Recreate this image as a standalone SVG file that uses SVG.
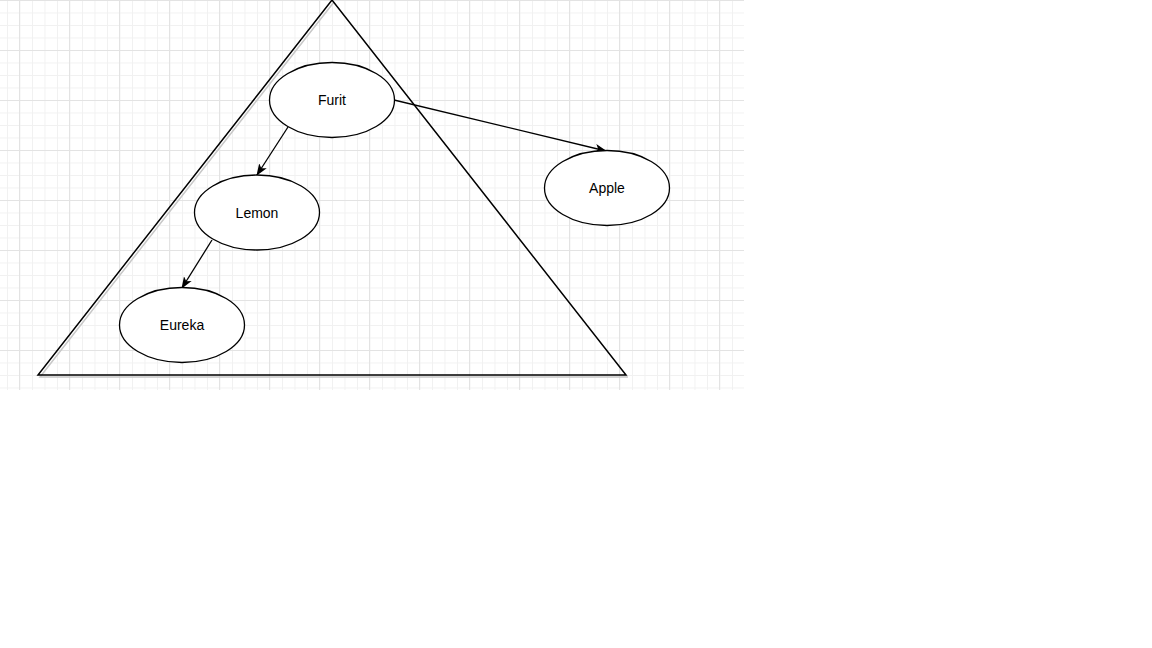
<svg xmlns="http://www.w3.org/2000/svg" width="1152" height="648" viewBox="0 0 1152 648">
<defs>
<pattern id="minor" x="7" y="0" width="12.5" height="12.5" patternUnits="userSpaceOnUse">
<path d="M0.5 0V12.5M0 0.5H12.5" fill="none" stroke="#f1f1f1" stroke-width="1"/>
</pattern>
<pattern id="major" x="19" y="0" width="50" height="50" patternUnits="userSpaceOnUse">
<path d="M0.5 0V50M0 0.5H50" fill="none" stroke="#e3e3e3" stroke-width="1"/>
</pattern>
<marker id="arr" viewBox="0 0 12 10" refX="11" refY="5" markerWidth="12" markerHeight="10" markerUnits="userSpaceOnUse" orient="auto">
<path d="M0 0.5L12 5L0 9.5L3 5Z" fill="#000"/>
</marker>
</defs>
<style>
.node ellipse{fill:#fff;stroke:#000;stroke-width:1.3}
.node text{font-family:"Liberation Sans",Arial,sans-serif;font-size:14px;fill:#000;text-anchor:middle}
.edge{fill:none;stroke:#000;stroke-width:1.3;marker-end:url(#arr)}
</style>
<rect width="1152" height="648" fill="#fff"/>
<rect x="0" y="0" width="744" height="390" fill="url(#minor)"/>
<rect x="0" y="0" width="744" height="390" fill="url(#major)"/>
<g id="triangle">
<polyline points="334,2 40,377 628,377" fill="none" stroke="#c8c8c8" stroke-width="1.5"/>
<polygon points="332,0 38,375 626,375" fill="none" stroke="#000" stroke-width="1.5"/>
</g>
<g id="connectors">
<line class="edge" x1="288" y1="127" x2="257" y2="175"/>
<line class="edge" x1="212" y1="240" x2="182" y2="288"/>
<line class="edge" x1="394" y1="100" x2="606" y2="151"/>
</g>
<g id="furit" class="node"><ellipse cx="332" cy="100" rx="62.5" ry="37.5"/><text x="332" y="105">Furit</text></g>
<g id="lemon" class="node"><ellipse cx="257" cy="212.5" rx="62.5" ry="37.5"/><text x="257" y="217.5">Lemon</text></g>
<g id="eureka" class="node"><ellipse cx="182" cy="325" rx="62.5" ry="37.5"/><text x="182" y="330">Eureka</text></g>
<g id="apple" class="node"><ellipse cx="607" cy="188" rx="62.5" ry="37.5"/><text x="607" y="193">Apple</text></g>
</svg>
